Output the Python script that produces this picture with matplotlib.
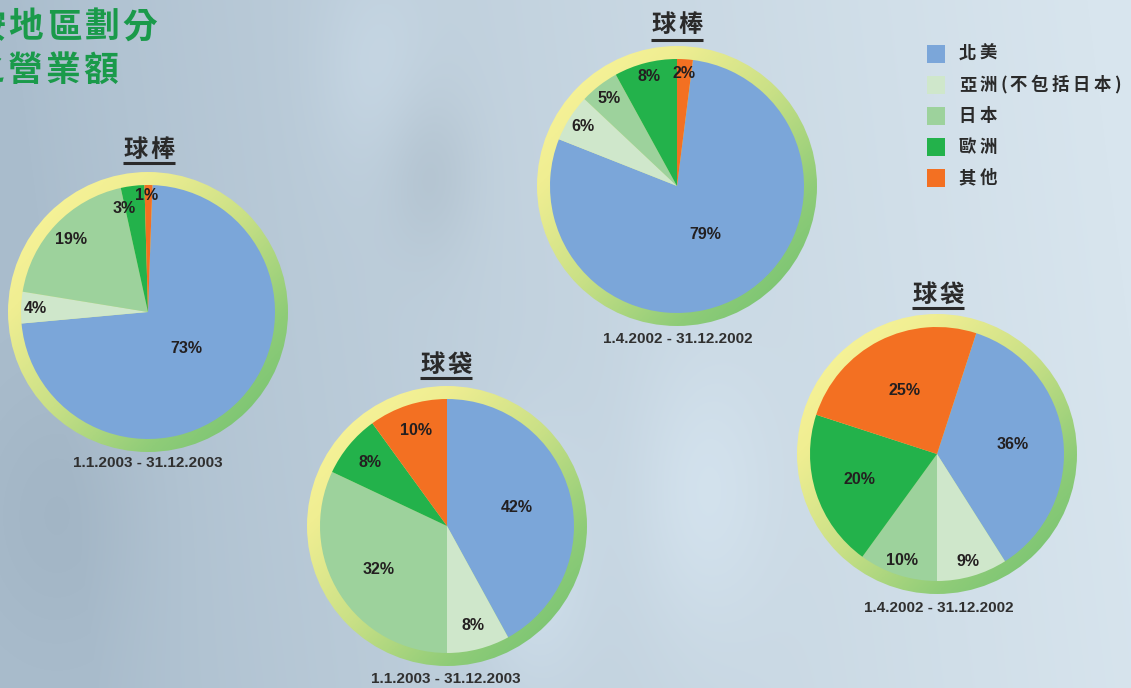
import matplotlib
matplotlib.use("Agg")

import numpy as np
import matplotlib.pyplot as plt
from matplotlib.patches import Circle, Rectangle
from matplotlib.colors import LinearSegmentedColormap, to_rgb

W, H = 1131, 688

# 資料
regions = ["北美", "亞洲(不包括日本)", "日本", "歐洲", "其他"]
region_colors = ["#7BA6D9", "#CFE7CB", "#9DD29C", "#23B24B", "#F37022"]

chart_titles = ["球棒", "球棒", "球袋", "球袋"]
periods = ["1.1.2003 - 31.12.2003", "1.4.2002 - 31.12.2002",
           "1.1.2003 - 31.12.2003", "1.4.2002 - 31.12.2002"]
bats_2003 = [73, 4, 19, 3, 1]
bats_2002 = [79, 6, 5, 8, 2]
bags_2003 = [42, 8, 32, 8, 10]
bags_2002 = [36, 9, 10, 20, 25]
pie_values = [bats_2003, bats_2002, bags_2003, bags_2002]

# 版面 (pixel, 由左上角起算)
centers = [(148, 312), (677, 186), (447, 526), (937, 454)]
start_angles = [88, 82.8, 90, 72]
label_dist = [[0.42, 0.89, 0.83, 0.84, 0.92],
              [0.44, 0.88, 0.87, 0.89, 0.89],
              [0.57, 0.81, 0.64, 0.79, 0.79],
              [0.60, 0.88, 0.88, 0.64, 0.56]]
# 標籤角度微調 (度, 逆時針為正)
label_nudge = [[0, 0, 0, 6, 1],
               [0, 0, 0, 0, 0],
               [0, 0, 0, 0, 0],
               [0, 0, 0, 0, 0]]
title_pos = [(149, 150), (677, 25), (446, 365), (938, 295)]
underline_y = [163, 40, 378, 308]
period_pos = [(148, 463), (678, 339), (446, 679), (939, 608)]
R_PIE, R_RING = 127, 140

CJK = ["Noto Sans CJK TC", "DejaVu Sans"]
LATIN = "Liberation Sans"
DARK = "#2A2A2A"


def Y(y):
    return H - y


def spaced(ax, x_left, y, s, step, **kw):
    """逐字放置文字, 模擬字距"""
    x = x_left
    for ch in s:
        w = step * 0.42 if ch in "()" else step
        ax.text(x + w / 2, Y(y), ch, ha="center", va="center", **kw)
        x += w


fig = plt.figure(figsize=(W / 100, H / 100), dpi=100)
ax = fig.add_axes([0, 0, 1, 1])

# 背景
xx, yy = np.meshgrid(np.linspace(0, 1, W), np.linspace(0, 1, H))
left_c = np.array(to_rgb("#AABDCD"))
right_c = np.array(to_rgb("#D8E5EE"))
t = np.clip(xx * 1.05 - 0.05 + 0.08 * (0.5 - yy), 0, 1) ** 0.8
bg = left_c * (1 - t[..., None]) + right_c * t[..., None]
light = (np.exp(-(((xx - 0.47) / 0.05) ** 2 + ((yy - 0.82) / 0.18) ** 2))
         + 0.8 * np.exp(-(((xx - 0.62) / 0.06) ** 2 + ((yy - 0.72) / 0.2) ** 2))
         + 0.6 * np.exp(-(((xx - 0.33) / 0.05) ** 2 + ((yy - 0.1) / 0.15) ** 2)))
dark = (np.exp(-(((xx - 0.38) / 0.04) ** 2 + ((yy - 0.25) / 0.12) ** 2))
        + 0.7 * np.exp(-(((xx - 0.05) / 0.08) ** 2 + ((yy - 0.75) / 0.2) ** 2)))
bg = bg + 0.05 * light[..., None] - 0.04 * dark[..., None]
ax.imshow(np.clip(bg, 0, 1), extent=[0, W, 0, H], origin="upper", zorder=0)

ring_cmap = LinearSegmentedColormap.from_list(
    "ring", ["#FCF69C", "#F0EE92", "#C9E086", "#8FCC78", "#6BBF6F"])
g = np.linspace(-1, 1, 200)
gx, gy = np.meshgrid(g, g)
grad = (gx - gy + 2) / 4

for i, vals in enumerate(pie_values):
    cx, cy = centers[i]
    circ = Circle((cx, Y(cy)), R_RING, transform=ax.transData)
    im = ax.imshow(grad, cmap=ring_cmap, vmin=0, vmax=1, origin="lower",
                   extent=[cx - R_RING, cx + R_RING, Y(cy) - R_RING, Y(cy) + R_RING],
                   zorder=1)
    im.set_clip_path(circ)
    wedges, _ = ax.pie(vals, colors=region_colors, radius=R_PIE, center=(cx, Y(cy)),
                       startangle=start_angles[i], counterclock=False, frame=True,
                       wedgeprops=dict(linewidth=0, zorder=2))
    for j, w in enumerate(wedges):
        ang = np.deg2rad((w.theta1 + w.theta2) / 2 + label_nudge[i][j])
        d = label_dist[i][j] * R_PIE
        ax.text(cx + d * np.cos(ang), Y(cy) + d * np.sin(ang), f"{vals[j]}%",
                ha="center", va="center", fontsize=11.5, fontweight="bold",
                family=LATIN, color="#231F20", zorder=4)

    tx, ty = title_pos[i]
    spaced(ax, tx - 27, ty, chart_titles[i], 27, fontsize=17.5, fontweight="bold",
           family=CJK, color=DARK, zorder=4)
    ax.plot([tx - 26, tx + 26], [Y(underline_y[i])] * 2, color=DARK, lw=2.2,
            solid_capstyle="butt", zorder=4)
    px, py = period_pos[i]
    ax.text(px, Y(py), periods[i], ha="center", va="center", fontsize=11,
            fontweight="bold", family=LATIN, color="#303030", zorder=4)

# 圖例
legend_y = [54, 85, 116, 147, 178]
for k, name in enumerate(regions):
    ax.add_patch(Rectangle((927, Y(legend_y[k]) - 9), 18, 18,
                           facecolor=region_colors[k], edgecolor="none", zorder=3))
    spaced(ax, 957, legend_y[k], name, 21, fontsize=12.5, fontweight="bold",
           family=CJK, color=DARK, zorder=4)

# 左上角標題 (部分在畫面外, 與原圖相同)
spaced(ax, -31, 27, "按地區劃分", 38, fontsize=25, fontweight="bold", family=CJK,
       color="#1A9A4A", zorder=4)
spaced(ax, -32, 70, "之營業額", 38, fontsize=25, fontweight="bold", family=CJK,
       color="#1A9A4A", zorder=4)

ax.set_xlim(0, W)
ax.set_ylim(0, H)
ax.set_aspect("auto")
ax.axis("off")

fig.savefig("out.png", dpi=100)
